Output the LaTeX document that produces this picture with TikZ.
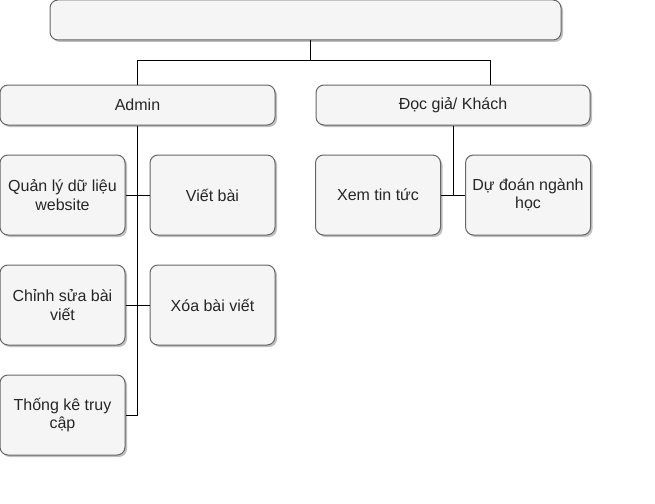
\documentclass[tikz,border=0pt]{standalone}
\usepackage{fontspec}
\setmainfont{Liberation Sans}
\usetikzlibrary{shadows,calc}
\begin{document}
\begin{tikzpicture}[x=0.75pt,y=-0.75pt,
  box/.style={draw=black!60, fill=black!4, rounded corners=6pt, line width=0.75pt,
    align=center, font=\fontsize{12}{13.8}\selectfont, text=black!85, inner sep=0pt,
    drop shadow={shadow xshift=1.5pt, shadow yshift=-1.5pt, opacity=0.25, fill=black}},
  wide/.style={box, minimum width=275*0.75pt, minimum height=40*0.75pt},
  small/.style={box, minimum width=125*0.75pt, minimum height=80*0.75pt},
  link/.style={draw=black, line width=0.75pt}]
\useasboundingbox (0,0) rectangle (655,503);
\node[box, minimum width=511*0.75pt, minimum height=40*0.75pt] (top) at (305.5,20) {};
\node[wide] (admin) at (137.5,105) {Admin};
\node[wide, minimum width=274*0.75pt] (doc) at (453,105) {Đọc giả/ Khách};
\node[small] (ql) at (62.5,195) {Quản lý dữ liệu\\website};
\node[small] (vb) at (212.5,195) {Viết bài};
\node[small] (cs) at (62.5,305) {Chỉnh sửa bài\\viết};
\node[small] (xb) at (212.5,305) {Xóa bài viết};
\node[small] (tk) at (62.5,415) {Thống kê truy\\cập};
\node[small] (xt) at (378,195) {Xem tin tức};
\node[small] (dd) at (528,195) {Dự đoán ngành\\học};
\coordinate (ts) at ($(top.south)+(4.5,0)$);
\coordinate (bar) at ($(ts)+(0,20)$);
\coordinate (dn) at ($(doc.north)+(37,0)$);
\draw[link] (ts) -- (bar) -| (admin.north);
\draw[link] (bar) -| (dn);
\draw[link] (admin.south) -- (admin.south |- tk.east) -- (tk.east);
\draw[link] (ql.east) -- (vb.west);
\draw[link] (cs.east) -- (xb.west);
\draw[link] (doc.south) -- (doc.south |- xt.east);
\draw[link] (xt.east) -- (dd.west);
\end{tikzpicture}
\end{document}
